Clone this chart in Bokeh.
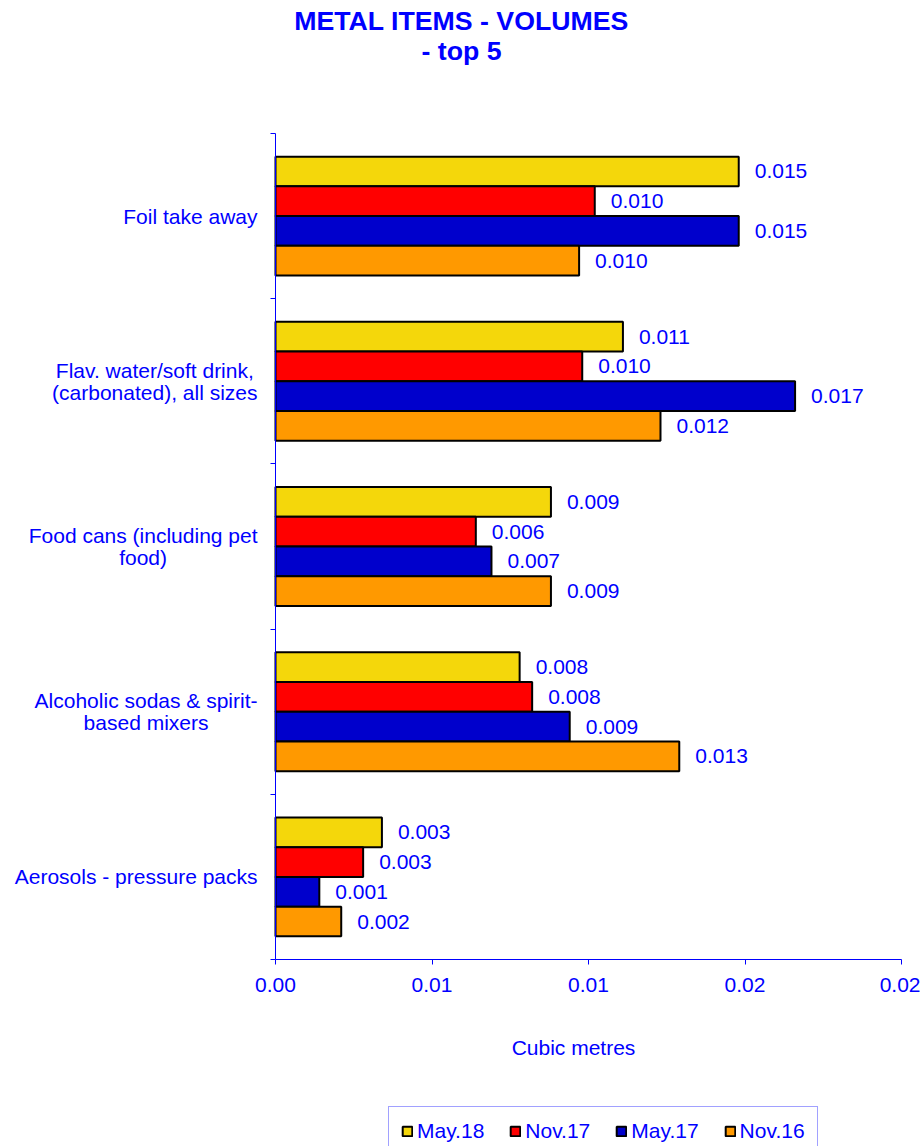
from bokeh.plotting import figure
from bokeh.models import (Range1d, FixedTicker, CustomJSTickFormatter, Label, Legend,
                          LegendItem, ColumnDataSource, LinearAxis)
from bokeh.core.properties import value
from bokeh.embed import file_html
from bokeh.resources import INLINE

# ---------------- data ----------------
title_lines = ["METAL ITEMS - VOLUMES", "- top 5"]
categories = [
    "Foil take away",
    "Flav. water/soft drink,\n(carbonated), all sizes",
    "Food cans (including pet\nfood)",
    "Alcoholic sodas & spirit-\nbased mixers",
    "Aerosols - pressure packs",
]
series_names = ["May.18", "Nov.17", "May.17", "Nov.16"]
may18 = [0.0148, 0.0111, 0.0088, 0.0078, 0.0034]
nov17 = [0.0102, 0.0098, 0.0064, 0.0082, 0.0028]
may17 = [0.0148, 0.0166, 0.0069, 0.0094, 0.0014]
nov16 = [0.0097, 0.0123, 0.0088, 0.0129, 0.0021]
x_ticks = [0, 0.005, 0.01, 0.015, 0.02]
x_tick_labels = ["0.00", "0.01", "0.01", "0.02", "0.02"]
x_label = "Cubic metres"
X_MAX = 0.02

# ---------------- layout / style ----------------
W, H = 920, 1146
PL, PR, PT, PB = 275, 901, 133, 959      # plot area in canvas pixels
colors = ["#F4D70B", "#FF0000", "#0000CC", "#FF9900"]
BLUE = "#0000FF"
FONT = "Liberation Sans"
FS = 21
BAR_H = 0.18

n = len(categories)
kx = (PR - PL) / X_MAX
ky = (PB - PT) / n
x_start = -PL / kx
x_end = x_start + W / kx
y_end = n + PT / ky
y_start = y_end - H / ky

# Arial / Liberation Sans advance widths (1/1000 em)
AW = {' ': 278, '.': 278, ',': 278, '/': 278, '(': 333, ')': 333, '-': 333, '&': 667}
AW.update(dict(zip("abcdefghijklmnopqrstuvwxyz",
                   [556, 556, 500, 556, 556, 278, 556, 556, 222, 222, 500, 222, 833,
                    556, 556, 556, 556, 333, 500, 278, 556, 500, 722, 500, 500, 500])))
AW.update(dict(zip("ABCDEFGHIJKLMNOPQRSTUVWXYZ",
                   [667, 667, 722, 722, 667, 611, 778, 722, 278, 500, 667, 556, 833,
                    722, 778, 667, 778, 722, 667, 611, 722, 667, 944, 667, 667, 611])))


def text_w(s, size):
    return sum(AW.get(ch, 556) for ch in s) * size / 1000.0


p = figure(width=W, height=H, x_range=Range1d(x_start, x_end), y_range=Range1d(y_start, y_end),
           output_backend="svg", toolbar_location=None, min_border=0,
           x_axis_location=None, y_axis_location=None)
p.xgrid.visible = False
p.ygrid.visible = False
p.outline_line_color = None
p.background_fill_color = "white"
p.border_fill_color = "white"

# x axis
xa = LinearAxis(fixed_location=0, bounds=(0, X_MAX))
xa.ticker = FixedTicker(ticks=x_ticks, minor_ticks=[])
xa.formatter = CustomJSTickFormatter(args=dict(labels=x_tick_labels), code="return labels[index];")
xa.axis_line_color = BLUE
xa.major_tick_line_color = BLUE
xa.major_tick_out = 5
xa.major_tick_in = 0
xa.minor_tick_line_color = None
xa.major_label_text_color = BLUE
xa.major_label_text_font = FONT
xa.major_label_text_font_size = f"{FS}px"
xa.major_label_standoff = 13
p.add_layout(xa, "below")

# y axis (ticks at category boundaries, labels drawn separately)
ya = LinearAxis(fixed_location=0, bounds=(0, n))
ya.ticker = FixedTicker(ticks=list(range(n + 1)), minor_ticks=[])
ya.formatter = CustomJSTickFormatter(code="return '';")
ya.axis_line_color = BLUE
ya.major_tick_line_color = BLUE
ya.major_tick_out = 5
ya.major_tick_in = 0
ya.minor_tick_line_color = None
p.add_layout(ya, "left")

all_series = [may18, nov17, may17, nov16]
renderers = []
for si, (name, vals, col) in enumerate(zip(series_names, all_series, colors)):
    ys = [(n - 1 - c) + 0.5 + (1.5 - si) * BAR_H for c in range(n)]
    src = ColumnDataSource(dict(y=ys, v=vals, lab=[f"{v:.3f}" for v in vals]))
    r = p.hbar(y="y", left=0, right="v", height=BAR_H, source=src,
               fill_color=col, line_color="black", line_width=2)
    renderers.append(r)
    p.text(x="v", y="y", text="lab", source=src, x_offset=16, text_align="left",
           text_baseline="middle", text_color=BLUE, text_font=value(FONT),
           text_font_size=f"{FS}px")

# category labels (right-aligned block, centred lines)
LH = 22
for c, cat in enumerate(categories):
    lines = cat.split("\n")
    Wb = max(text_w(s, FS) for s in lines)
    cx = PL - 18 - Wb / 2
    for i, s in enumerate(lines):
        yl = (n - 1 - c) + 0.5 + ((len(lines) - 1) / 2 - i) * LH / ky
        p.add_layout(Label(x=cx, y=yl, x_units="screen", y_units="data",
                           text=s, text_align="center", text_baseline="middle",
                           text_color=BLUE, text_font=FONT, text_font_size=f"{FS}px"))

# x axis title
p.add_layout(Label(x=573, y=H - 1047, x_units="screen", y_units="screen", text=x_label,
                   text_align="center", text_baseline="middle", text_color=BLUE,
                   text_font=FONT, text_font_size=f"{FS}px"))

# chart title
for i, t in enumerate(title_lines):
    p.add_layout(Label(x=461, y=H - 20 - i * 30, x_units="screen", y_units="screen", text=t,
                       text_align="center", text_baseline="middle", text_color=BLUE,
                       text_font=FONT, text_font_size="26.7px", text_font_style="bold"))

legend = Legend(items=[LegendItem(label=nm, renderers=[r]) for nm, r in zip(series_names, renderers)],
                orientation="horizontal", location=(388, -10),
                label_text_color=BLUE, label_text_font=FONT, label_text_font_size=f"{FS}px",
                glyph_width=12, glyph_height=12, label_standoff=4, spacing=25, padding=12,
                border_line_color="#4444FF", border_line_width=1, margin=0,
                background_fill_color="white")
p.add_layout(legend, "center")

open("out.html", "w").write(file_html(p, INLINE))
